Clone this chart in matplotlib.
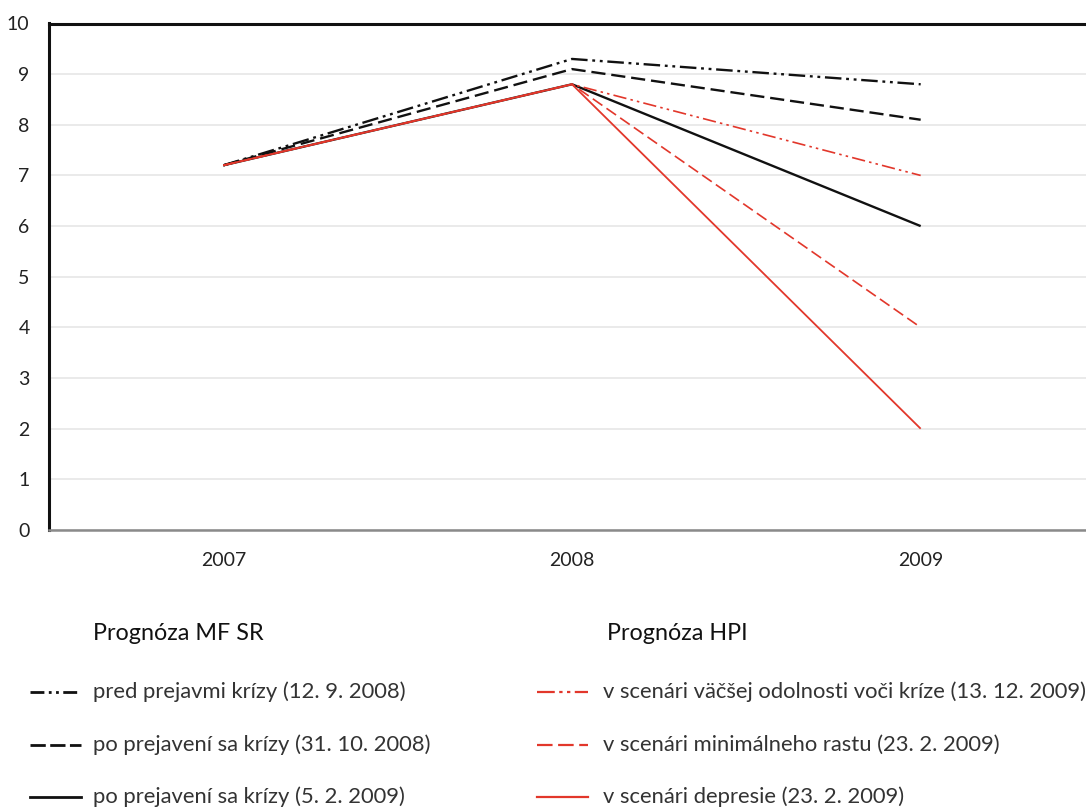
import matplotlib
matplotlib.use("Agg")
import matplotlib.pyplot as plt
from matplotlib.lines import Line2D

plt.rcParams['font.family'] = ['Lato', 'DejaVu Sans']

years = ["2007", "2008", "2009"]

mf_labels = [
    "pred prejavmi krízy (12. 9. 2008)",
    "po prejavení sa krízy (31. 10. 2008)",
    "po prejavení sa krízy (5. 2. 2009)",
]
mf_values = [
    [7.2, 9.3, 8.8],
    [7.2, 9.1, 8.1],
    [7.2, 8.8, 6.0],
]

hpi_labels = [
    "v scenári väčšej odolnosti voči kríze (13. 12. 2009)",
    "v scenári minimálneho rastu (23. 2. 2009)",
    "v scenári depresie (23. 2. 2009)",
]
hpi_values = [
    [7.2, 8.8, 7.0],
    [7.2, 8.8, 4.0],
    [7.2, 8.8, 2.0],
]

yticks = list(range(0, 11))

BLACK = "#111111"
RED = "#e2372b"
mf_styles = [dict(color=BLACK, lw=1.7, ls=(0, (7, 2, 1.2, 2, 1.2, 2))),
             dict(color=BLACK, lw=1.7, ls=(0, (6, 2.5))),
             dict(color=BLACK, lw=1.7, ls='-')]
hpi_styles = [dict(color=RED, lw=1.2, ls=(0, (8, 2.5, 1.5, 2.5, 1.5, 2.5))),
              dict(color=RED, lw=1.2, ls=(0, (7, 3))),
              dict(color=RED, lw=1.3, ls='-')]
# legend samples use tighter dash patterns
mf_key_ls = [(0, (5, 1.6, 1, 1.6, 1, 1.6)), (0, (5.5, 1.6)), '-']
hpi_key_ls = [(0, (8, 2, 1.5, 2, 1.5, 2)), (0, (7, 2.5)), '-']

W, H = 1086, 810
fig = plt.figure(figsize=(W / 100, H / 100), dpi=100)
ax = fig.add_axes([49 / W, 1 - 530 / H, (1095 - 49) / W, (530 - 23.5) / H])

x = list(range(len(years)))
for vals, st in zip(mf_values, mf_styles):
    ax.plot(x, vals, solid_capstyle='butt', dash_capstyle='butt', **st, zorder=2)
for vals, st in zip(hpi_values, hpi_styles):
    ax.plot(x, vals, solid_capstyle='butt', dash_capstyle='butt', **st, zorder=3)

ax.set_xlim(-0.5, 2.5)
ax.set_ylim(0, 10)
ax.set_xticks(x)
ax.set_xticklabels(years)
ax.set_yticks(yticks)
ax.set_yticklabels([str(t) for t in yticks])
ax.tick_params(axis='both', length=0, labelsize=14, colors="#222222")
ax.tick_params(axis='x', pad=16)
ax.tick_params(axis='y', pad=14)
ax.grid(axis='y', color="#e6e6e6", lw=1.2)
ax.set_axisbelow(True)
ax.spines['left'].set_color(BLACK)
ax.spines['left'].set_linewidth(2.2)
ax.spines['top'].set_color(BLACK)
ax.spines['top'].set_linewidth(2.2)
ax.spines['bottom'].set_color("#8a8a8a")
ax.spines['bottom'].set_linewidth(1.8)
ax.spines['right'].set_visible(False)

# Two-column legend drawn in figure coordinates
fs = 15.8
cols = [
    ("Prognóza MF SR", 93, 30, 81, 93, mf_labels, mf_styles, mf_key_ls, 2.0),
    ("Prognóza HPI", 607, 537, 588, 603, hpi_labels, hpi_styles, hpi_key_ls, 1.6),
]
rows_y = [692, 745, 797]
for title, tx, lx0, lx1, labx, labels, styles, key_ls, key_lw in cols:
    fig.text(tx / W, 1 - 633 / H, title, fontsize=16.8, color="#111111",
             va='center', ha='left')
    for yy, lab, st, kls in zip(rows_y, labels, styles, key_ls):
        fig.add_artist(Line2D([lx0 / W, lx1 / W], [1 - yy / H, 1 - yy / H],
                              transform=fig.transFigure,
                              color=st['color'], lw=key_lw, ls=kls))
        fig.text(labx / W, 1 - yy / H, lab, fontsize=fs, color="#333333",
                 va='center', ha='left')

fig.savefig("out.png", dpi=100, facecolor="white")
